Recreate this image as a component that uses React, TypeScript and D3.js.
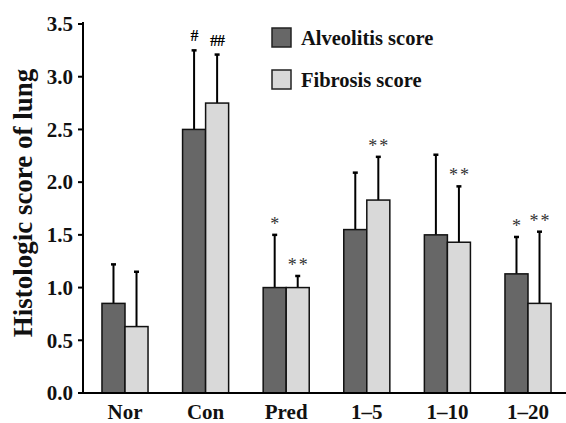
import React from "react";
import * as d3 from "d3";

const categories = ["Nor", "Con", "Pred", "1–5", "1–10", "1–20"];
const seriesNames = ["Alveolitis score", "Fibrosis score"];
const alveolitis = [0.85, 2.5, 1.0, 1.55, 1.5, 1.13];
const alveolitisErr = [0.37, 0.75, 0.5, 0.54, 0.76, 0.35];
const fibrosis = [0.63, 2.75, 1.0, 1.83, 1.43, 0.85];
const fibrosisErr = [0.52, 0.46, 0.11, 0.41, 0.53, 0.68];
const alveolitisMarks = ["", "#", "*", "", "", "*"];
const fibrosisMarks = ["", "##", "**", "**", "**", "**"];
const yTicks = [0, 0.5, 1.0, 1.5, 2.0, 2.5, 3.0, 3.5];
const colors = ["#676767", "#d9d9d9"];

const W = 566;
const H = 423;

export default function App() {
  const y = d3.scaleLinear().domain([0, 3.5]).range([393, 24]);
  const x0 = d3.scaleBand<string>().domain(categories).range([84.7, 568.3]).padding(0);
  const x1 = d3
    .scaleBand<string>()
    .domain(seriesNames)
    .range([0, x0.bandwidth()])
    .paddingInner(0)
    .paddingOuter(0.75);
  const values = [alveolitis, fibrosis];
  const errs = [alveolitisErr, fibrosisErr];
  const marks = [alveolitisMarks, fibrosisMarks];
  const font = "'Liberation Serif', 'Times New Roman', serif";

  return (
    <svg
      width={W}
      height={H}
      style={{ position: "absolute", left: 0, top: 0, background: "#fff" }}
      fontFamily={font}
    >
      {/* bars */}
      {categories.map((c, i) =>
        seriesNames.map((s, k) => {
          const v = values[k][i];
          const bx = (x0(c) as number) + (x1(s) as number);
          const bw = x1.bandwidth();
          const cx = bx + bw / 2;
          const top = y(v + errs[k][i]);
          const m = marks[k][i];
          const isHash = m.startsWith("#");
          return (
            <g key={c + s}>
              <line x1={cx} x2={cx} y1={y(v)} y2={top} stroke="#000" strokeWidth={2} />
              <line x1={cx - 2.5} x2={cx + 2.5} y1={top} y2={top} stroke="#000" strokeWidth={2.5} />
              <rect
                x={bx}
                y={y(v)}
                width={bw}
                height={y(0) - y(v)}
                fill={colors[k]}
                stroke="#111"
                strokeWidth={1.5}
              />
              {m && (
                <text
                  x={cx + (isHash ? 0 : 1)}
                  y={isHash ? top - 9 : top - 5}
                  textAnchor="middle"
                  fontSize={isHash ? 16 : 18}
                  fontWeight={isHash ? "bold" : "normal"}
                  letterSpacing={isHash ? -1 : 2}
                  fill={isHash ? "#000" : "#333"}
                >
                  {m}
                </text>
              )}
            </g>
          );
        })
      )}

      {/* y axis */}
      <line x1={83} x2={83} y1={y(3.5) - 2} y2={y(0)} stroke="#000" strokeWidth={2} />
      {yTicks.map((t) => (
        <g key={t}>
          <line x1={78} x2={83} y1={y(t)} y2={y(t)} stroke="#000" strokeWidth={2} />
          <text
            x={73}
            y={y(t)}
            dy="0.35em"
            textAnchor="end"
            fontSize={21}
            fontWeight="bold"
            fill="#111"
          >
            {t.toFixed(1)}
          </text>
        </g>
      ))}

      {/* x axis */}
      <line x1={82} x2={W} y1={y(0)} y2={y(0)} stroke="#000" strokeWidth={2} />
      {categories.map((c) => (
        <text
          key={c}
          x={(x0(c) as number) + x0.bandwidth() / 2}
          y={419}
          textAnchor="middle"
          fontSize={21}
          fontWeight="bold"
          fill="#111"
        >
          {c}
        </text>
      ))}

      {/* y title */}
      <text
        transform={`translate(32,${203}) rotate(-90)`}
        textAnchor="middle"
        fontSize={27}
        fontWeight="bold"
        fill="#111"
      >
        Histologic score of lung
      </text>

      {/* legend */}
      {seriesNames.map((s, k) => (
        <g key={s} transform={`translate(272,${28 + k * 42})`}>
          <rect x={0} y={0} width={19} height={19} fill={colors[k]} stroke="#222" strokeWidth={1.5} />
          <text x={29} y={16.5} fontSize={20.5} fontWeight="bold" fill="#111">
            {s}
          </text>
        </g>
      ))}
    </svg>
  );
}
